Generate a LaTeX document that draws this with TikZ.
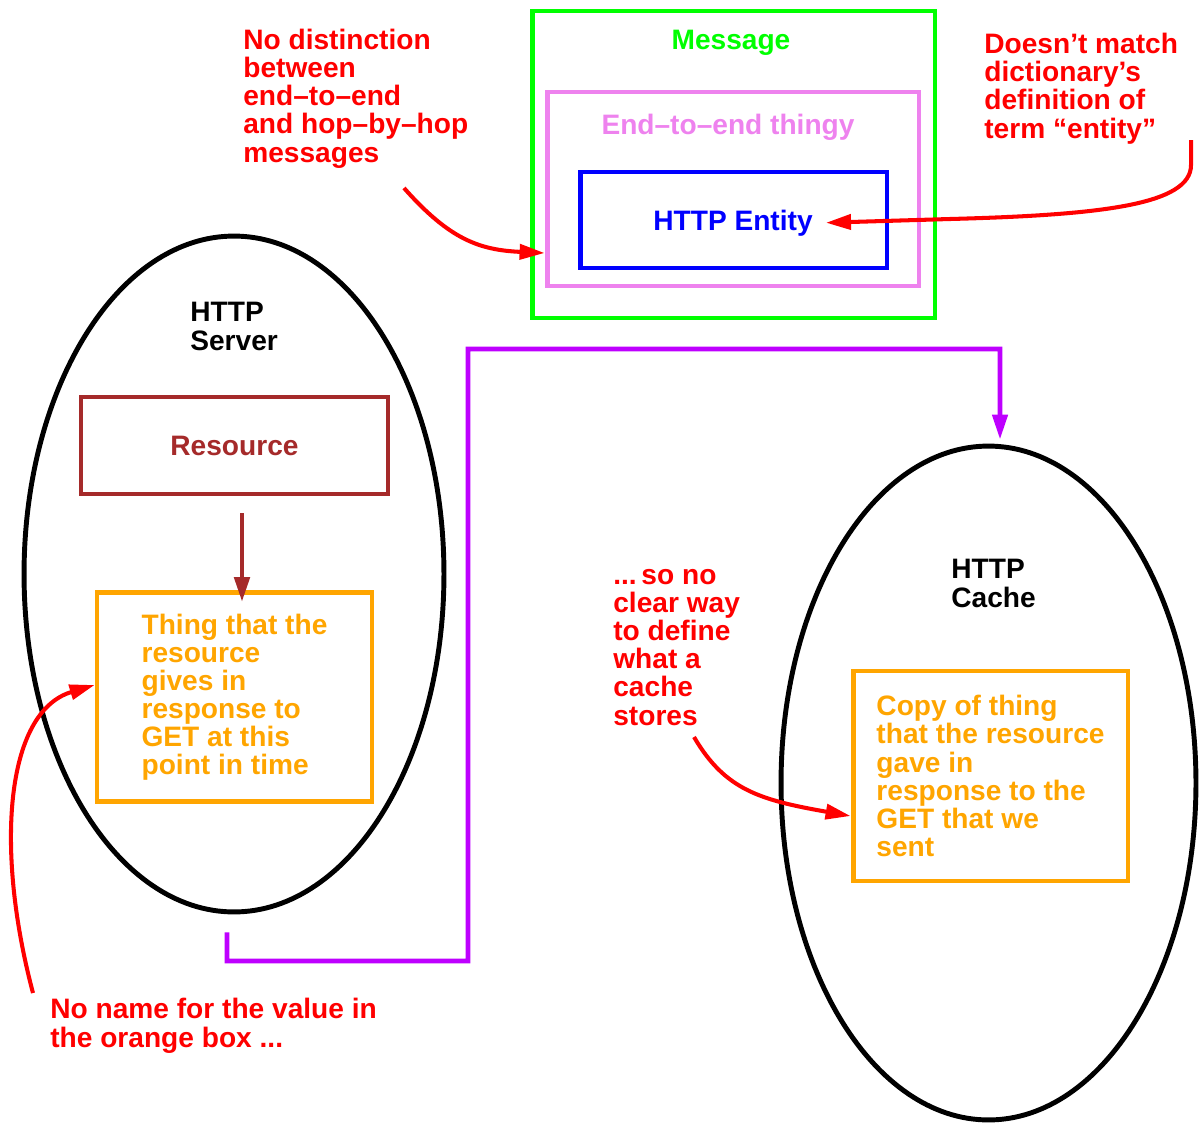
\documentclass[tikz,border=0pt]{standalone}
\usepackage{fontspec}
\setmainfont{Liberation Sans}
\usepackage{xcolor}
\usetikzlibrary{arrows.meta,calc,shapes.geometric}
\definecolor{msggreen}{RGB}{0,255,0}
\definecolor{e2eviolet}{RGB}{238,130,238}
\definecolor{entblue}{RGB}{0,0,255}
\definecolor{resbrown}{RGB}{165,42,42}
\definecolor{thingorange}{RGB}{255,165,0}
\definecolor{notered}{RGB}{255,0,0}
\definecolor{flowpurple}{RGB}{190,0,255}

\begin{document}
\begin{tikzpicture}[x=0.02cm,y=-0.02cm,
  txt/.style={font=\fontsize{16}{16}\selectfont\bfseries,inner sep=0pt,align=left},
  frame/.style={draw=#1,line width=2.8pt,rectangle,inner sep=0pt},
  host/.style={draw=black,line width=2.8pt,ellipse,inner sep=0pt},
  note/.style={txt,text=notered,anchor=base west},
  tip/.style={-{Triangle[length=0.5cm,width=0.3cm]}},
  remark/.style={draw=notered,line width=2.3pt,tip}]
  \useasboundingbox (0,0) rectangle (1199,1123);

  %% ── message nesting ──
  \node[frame=msggreen,minimum width=8.06cm,minimum height=6.14cm] (msg) at (733.5,164.5) {};
  \node[txt,text=msggreen,anchor=base] (msglbl) at (731,49) {Message};
  \node[frame=e2eviolet,minimum width=7.44cm,minimum height=3.88cm] (e2e) at (733,189) {};
  \node[txt,text=e2eviolet,anchor=base] (e2elbl) at (728,134) {End--to--end thingy};
  \node[frame=entblue,minimum width=6.14cm,minimum height=1.92cm] (ent) at (733.5,220) {};
  \node[txt,text=entblue,anchor=base] (entlbl) at (733,230) {HTTP Entity};

  %% ── server ──
  \node[host,minimum width=8.4cm,minimum height=13.52cm] (server) at (234,574) {};
  \node[txt,anchor=base west] (srvlbl) at (190,350) {HTTP\\Server};
  \node[frame=resbrown,txt,text=resbrown,minimum width=6.14cm,minimum height=1.94cm] (res) at (234.5,445.5) {Resource};
  \node[frame=thingorange,txt,text=thingorange,minimum width=5.5cm,minimum height=4.18cm] (thing) at (234.5,697)
    {Thing that the\\resource\\gives in\\response to\\GET at this\\point in time};
  \draw[resbrown,line width=2.8pt,tip] ($(res.south)+(7.5,17)$) -- ($(thing.north)+(7.5,12)$);

  %% ── cache ──
  \node[host,minimum width=8.3cm,minimum height=13.48cm] (cache) at (988.5,783) {};
  \node[txt,anchor=base west] (cachelbl) at (951,607) {HTTP\\Cache};
  \node[frame=thingorange,txt,text=thingorange,minimum width=5.5cm,minimum height=4.2cm] (copy) at (990.5,776)
    {Copy of thing\\that the resource\\gave in\\response to the\\GET that we\\sent};

  %% ── server to cache ──
  \draw[flowpurple,line width=2.6pt,tip] ($(server.south)+(-7,18)$) |- (468,961) |- (1000,349)
    -- ($(cache.north)+(11.5,-4)$);

  %% ── remarks ──
  \node[note] (nodist) at (243,162) {No distinction\\between\\end--to--end\\and hop--by--hop\\messages};
  \node[note] (nomatch) at (984,138) {Doesn't match\\dictionary's\\definition of\\term ``entity''};
  \node[note] (sono) at (613,725) {...\,so no\\clear way\\to define\\what a\\cache\\stores};
  \node[note] (noname) at (50,1047) {No name for the value in\\the orange box ...};

  \coordinate (nodistout) at (404,188);
  \coordinate (nomatchout) at (1191,140);
  \coordinate (sonoout) at (694,737);
  \coordinate (nonameout) at (33,993);
  \draw[remark] (nodistout) .. controls (450,240) and (480,250) .. ($(e2e.west)+(0,64)$);
  \draw[remark] (nomatchout) -- (1191,165) .. controls (1191,205) and (1100,215) .. (950,219)
    -- ([xshift=0.26cm]entlbl.east);
  \draw[remark] (sonoout) .. controls (725,790) and (760,800) .. ($(copy.west)+(0,40)$);
  \draw[remark] (nonameout) .. controls (-5,850) and (5,712) .. ($(thing.west)+(0,-12)$);
\end{tikzpicture}
\end{document}
